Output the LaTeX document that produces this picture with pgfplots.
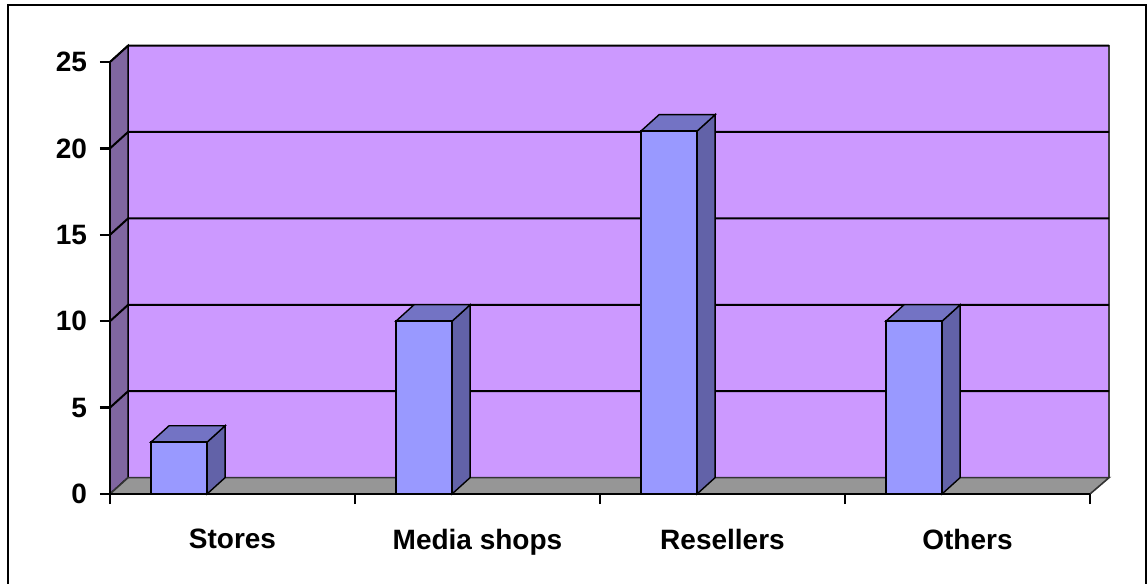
\documentclass[border=0pt]{standalone}
\usepackage{fontspec}
\setmainfont{Liberation Sans}
\usepackage{pgfplots}
\pgfplotsset{compat=1.18}
\definecolor{backwall}{HTML}{CC99FF}
\definecolor{leftwall}{HTML}{8066A0}
\definecolor{floorc}{HTML}{969696}
\definecolor{barfront}{HTML}{9999FF}
\definecolor{bartop}{HTML}{7373C4}
\definecolor{barside}{HTML}{6262A8}
\begin{document}
\begin{tikzpicture}
\begin{axis}[name=ax, scale only axis, width=490pt, height=216pt,
  xmin=0, xmax=4, ymin=0, ymax=25, clip=false,
  axis x line*=bottom, axis y line*=left,
  axis line style={black, line width=1.3pt, -},
  ytick={0,5,...,25},
  xtick={0,1,2,3,4}, xticklabels={},
  extra x ticks={0.5,1.5,2.5,3.5},
  extra x tick labels={Stores,Media shops,Resellers,Others},
  extra x tick style={major tick length=0pt, tick label style={yshift=-14pt}},
  tick align=outside, major tick length=5pt,
  tick style={black, line width=1.2pt},
  yticklabel style={xshift=-3pt},
  tick label style={font=\bfseries\fontsize{14}{16}\selectfont},
  /pgf/number format/assume math mode=true,
  axis on top]
% walls and floor
\addplot[fill=backwall, draw=black!75, line width=0.8pt] coordinates {(0.074,0.95) (4.078,0.95) (4.078,25.95) (0.074,25.95)} -- cycle;
\addplot[fill=leftwall, draw=black, line width=0.8pt] coordinates {(0,0) (0.074,0.95) (0.074,25.95) (0,25)} -- cycle;
\addplot[fill=floorc, draw=black!80, line width=0.8pt] coordinates {(0,0) (4,0) (4.078,0.95) (0.074,0.95)} -- cycle;
% gridlines
\addplot[black, line width=1pt] coordinates {(0,5) (0.074,5.95) (4.078,5.95)};
\addplot[black, line width=1pt] coordinates {(0,10) (0.074,10.95) (4.078,10.95)};
\addplot[black, line width=1pt] coordinates {(0,15) (0.074,15.95) (4.078,15.95)};
\addplot[black, line width=1pt] coordinates {(0,20) (0.074,20.95) (4.078,20.95)};
\addplot[black, line width=1pt] coordinates {(0,25) (0.074,25.95) (4.078,25.95)};
% Stores = 3
\addplot[fill=barside, draw=black, line width=0.7pt] coordinates {(0.396,0) (0.470,0.95) (0.470,3.95) (0.396,3)} -- cycle;
\addplot[fill=bartop, draw=black, line width=0.7pt] coordinates {(0.167,3) (0.396,3) (0.470,3.95) (0.241,3.95)} -- cycle;
\addplot[fill=barfront, draw=black, line width=0.7pt] coordinates {(0.167,0) (0.396,0) (0.396,3) (0.167,3)} -- cycle;
% Media shops = 10
\addplot[fill=barside, draw=black, line width=0.7pt] coordinates {(1.396,0) (1.470,0.95) (1.470,10.95) (1.396,10)} -- cycle;
\addplot[fill=bartop, draw=black, line width=0.7pt] coordinates {(1.167,10) (1.396,10) (1.470,10.95) (1.241,10.95)} -- cycle;
\addplot[fill=barfront, draw=black, line width=0.7pt] coordinates {(1.167,0) (1.396,0) (1.396,10) (1.167,10)} -- cycle;
% Resellers = 21
\addplot[fill=barside, draw=black, line width=0.7pt] coordinates {(2.396,0) (2.470,0.95) (2.470,21.95) (2.396,21)} -- cycle;
\addplot[fill=bartop, draw=black, line width=0.7pt] coordinates {(2.167,21) (2.396,21) (2.470,21.95) (2.241,21.95)} -- cycle;
\addplot[fill=barfront, draw=black, line width=0.7pt] coordinates {(2.167,0) (2.396,0) (2.396,21) (2.167,21)} -- cycle;
% Others = 10
\addplot[fill=barside, draw=black, line width=0.7pt] coordinates {(3.396,0) (3.470,0.95) (3.470,10.95) (3.396,10)} -- cycle;
\addplot[fill=bartop, draw=black, line width=0.7pt] coordinates {(3.167,10) (3.396,10) (3.470,10.95) (3.241,10.95)} -- cycle;
\addplot[fill=barfront, draw=black, line width=0.7pt] coordinates {(3.167,0) (3.396,0) (3.396,10) (3.167,10)} -- cycle;
\end{axis}
\draw[line width=1pt] ([xshift=-51pt,yshift=-46pt]ax.south west) -- ([xshift=-51pt,yshift=28.5pt]ax.north west) -- ([xshift=28pt,yshift=28.5pt]ax.north east) -- ([xshift=28pt,yshift=-46pt]ax.south east);
\pgfresetboundingbox
\path ([xshift=-55pt,yshift=-44.5pt]ax.south west) rectangle ([xshift=29pt,yshift=31pt]ax.north east);
\end{tikzpicture}
\end{document}
